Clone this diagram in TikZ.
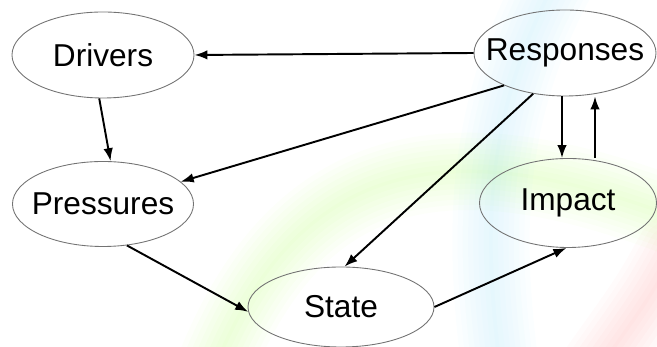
\documentclass[tikz,border=0pt]{standalone}
\usepackage{fontspec}
\setmainfont{Liberation Sans}
\usetikzlibrary{shapes.geometric,arrows.meta}

\begin{document}
\begin{tikzpicture}[font=\fontsize{18}{21}\selectfont,
  stage/.style={ellipse,draw=black!55,line width=0.5pt,inner xsep=-0.4cm,inner ysep=0pt,
    minimum width=3.64cm,minimum height=1.72cm},
  flow/.style={-{Latex[length=2.6mm,width=1.9mm]},line width=1.1pt},
  haze/.style={line cap=round}]
\useasboundingbox (0,0) rectangle (13.14,6.94);
% faint tint behind the cycle
\foreach \w in {44,38,...,2}{
  \draw[haze,cyan!60,line width=\w pt,opacity=0.025] (11.1,7.3) .. controls (9.6,4.5) and (9.7,2) .. (10.0,-0.4);
  \draw[haze,green!50!yellow,line width=\w pt,opacity=0.018] (4.3,-0.4) .. controls (6,3.8) and (9,4.3) .. (13.5,2.6);
  \draw[haze,red!70,line width=\w pt,opacity=0.02] (13.5,1.9) .. controls (13,1) .. (12.0,-0.4);
}
\node (drv) [stage] at (2.06,5.84) {Drivers};
\node (rsp) [stage] at (11.3,5.88) {Responses};
\node (prs) [stage,minimum width=3.62cm,minimum height=1.7cm] at (2.06,2.86) {Pressures};
\node (sta) [stage,minimum width=3.72cm,minimum height=1.6cm] at (6.82,0.8) {State};
\node (imp) [stage,minimum width=3.54cm,minimum height=1.78cm] at (11.36,2.88) {Impact};
\coordinate (dn) at (11.24,0);
\coordinate (up) at (11.9,0);
\path[flow]
(rsp.west) edge (drv.east)
(drv.265) edge (prs.80)
(rsp.208) edge (prs.16)
(rsp.232) edge (sta.85)
(rsp.south -| dn) edge (imp.north -| dn)
(imp.north -| up) edge (rsp.south -| up)
(prs.300) edge (sta.183)
(sta.east) edge (imp.268);
\end{tikzpicture}
\end{document}
